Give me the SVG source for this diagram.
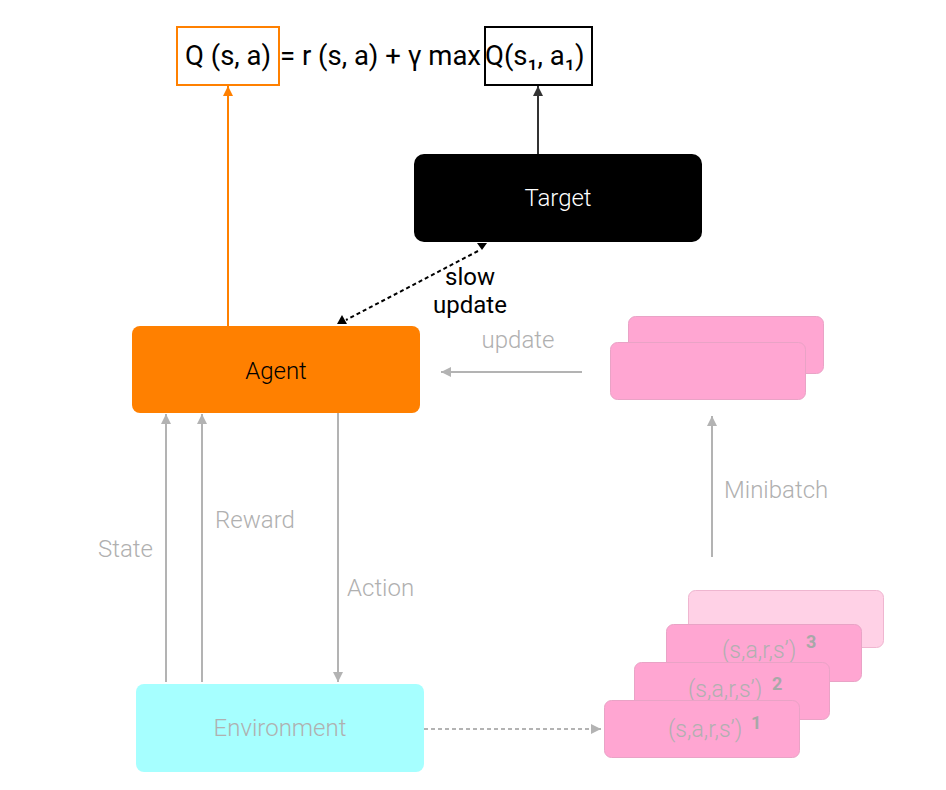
<svg xmlns="http://www.w3.org/2000/svg" width="946" height="790" viewBox="0 0 946 790">
<style>
.lbl{font-family:Roboto,"Liberation Sans",sans-serif;font-weight:300;font-size:24px;}
.rp{font-family:Roboto,"Liberation Sans",sans-serif;font-weight:300;font-size:23px;fill:#b0b0b0;}
.gray{fill:#b0b0b0;}
.f{font-family:Roboto,"Liberation Sans",sans-serif;font-weight:400;font-size:27.5px;fill:#000;}
.blk{font-family:Roboto,"Liberation Sans",sans-serif;font-weight:400;font-size:24px;fill:#000;}
.sup{font-family:Roboto,"Liberation Sans",sans-serif;font-weight:700;font-size:18px;fill:#a8a8a8;}
.pink{fill:#ffa6d2;stroke:#e9a3c6;stroke-width:1;}
.gl{stroke:#b3b3b3;stroke-width:2;fill:none;}
</style>
<defs>
<marker id="ag" viewBox="0 0 10 10" refX="10" refY="5" markerWidth="10" markerHeight="11" markerUnits="userSpaceOnUse" orient="auto"><path d="M0,0 L10,5 L0,10 z" fill="#b3b3b3"/></marker>
<marker id="ao" viewBox="0 0 10 10" refX="10" refY="5" markerWidth="10" markerHeight="10" markerUnits="userSpaceOnUse" orient="auto"><path d="M0,0 L10,5 L0,10 z" fill="#ff8000"/></marker>
<marker id="ak" viewBox="0 0 10 10" refX="10" refY="5" markerWidth="10" markerHeight="10" markerUnits="userSpaceOnUse" orient="auto"><path d="M0,0 L10,5 L0,10 z" fill="#333"/></marker>
</defs>

<g id="formula">
<rect x="177" y="27" width="102" height="58" fill="none" stroke="#ff8000" stroke-width="2"/>
<rect x="485" y="27" width="107" height="58" fill="none" stroke="#000" stroke-width="2"/>
<text class="f" x="185" y="65">Q (s, a)</text>
<text class="f" x="280" y="65">= r (s, a) + γ max</text>
<text class="f" x="485" y="65">Q(s₁, a₁)</text>
</g>

<g id="connectors">
<line x1="228" y1="326" x2="228" y2="86" stroke="#ff8000" stroke-width="2" marker-end="url(#ao)"/>
<line x1="538" y1="154" x2="538" y2="86" stroke="#333" stroke-width="2" marker-end="url(#ak)"/>
<line x1="478" y1="251" x2="346" y2="320" stroke="#000" stroke-width="2" stroke-dasharray="4 3"/>
<polygon points="477,243 487,243 482,250" fill="#000"/>
<polygon points="342,315 347,324 337,324" fill="#000"/>
<line class="gl" x1="582" y1="372" x2="441" y2="372" marker-end="url(#ag)"/>
<line class="gl" x1="712" y1="557" x2="712" y2="416" marker-end="url(#ag)"/>
<line class="gl" x1="166" y1="682" x2="166" y2="414" marker-end="url(#ag)"/>
<line class="gl" x1="202" y1="682" x2="202" y2="414" marker-end="url(#ag)"/>
<line class="gl" x1="338" y1="413" x2="338" y2="682" marker-end="url(#ag)"/>
<line x1="424" y1="729" x2="601" y2="729" stroke="#b3b3b3" stroke-width="2" stroke-dasharray="4 3" marker-end="url(#ag)"/>
<text class="blk" x="470" y="285" text-anchor="middle">slow</text>
<text class="blk" x="470" y="313" text-anchor="middle">update</text>
<text class="lbl gray" x="518" y="348" text-anchor="middle">update</text>
<text class="lbl gray" x="724" y="498">Minibatch</text>
<text class="lbl gray" x="98" y="557">State</text>
<text class="lbl gray" x="215" y="528">Reward</text>
<text class="lbl gray" x="347" y="596">Action</text>
</g>

<g id="target">
<rect x="414" y="154" width="288" height="88" rx="10" fill="#000"/>
<text class="lbl" x="558" y="206" text-anchor="middle" fill="#fff">Target</text>
</g>

<g id="agent">
<rect x="132" y="326" width="288" height="87" rx="8" fill="#ff8000"/>
<text class="lbl" x="276" y="379" text-anchor="middle" fill="#000">Agent</text>
</g>

<g id="minibatch">
<rect class="pink" x="628.5" y="316.5" width="195" height="57" rx="7"/>
<rect class="pink" x="610.5" y="342.5" width="195" height="57" rx="7"/>
</g>

<g id="environment">
<rect x="136" y="684" width="288" height="88" rx="8" fill="#a6ffff"/>
<text class="lbl gray" x="280" y="736" text-anchor="middle">Environment</text>
</g>

<g id="replay">
<rect x="688.5" y="590.5" width="195" height="57" rx="7" fill="#ffd1e6" stroke="#efb6d0" stroke-width="1"/>
<rect class="pink" x="666.5" y="624.5" width="195" height="57" rx="7"/>
<text class="rp" x="722" y="658">(s,a,r,s’)</text>
<text class="sup" x="806" y="648">3</text>
<rect class="pink" x="634.5" y="662.5" width="195" height="57" rx="7"/>
<text class="rp" x="688" y="697">(s,a,r,s’)</text>
<text class="sup" x="772" y="690">2</text>
<rect class="pink" x="604.5" y="700.5" width="195" height="57" rx="7"/>
<text class="rp" x="668" y="737">(s,a,r,s’)</text>
<text class="sup" x="751" y="729">1</text>
</g>
</svg>
